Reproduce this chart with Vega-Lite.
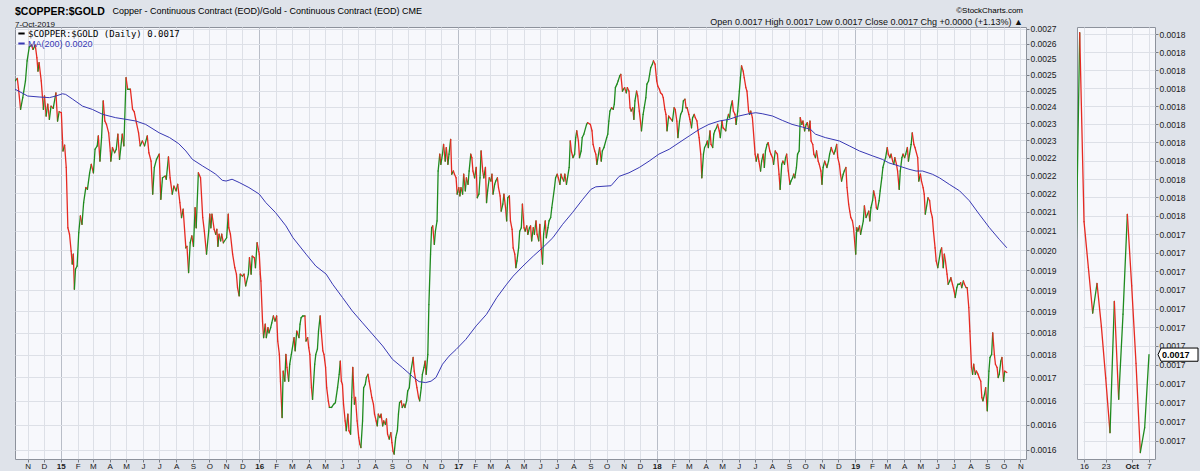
{
"$schema": "https://vega.github.io/schema/vega-lite/v6.json",
"background": "#dfe3ea",
"padding": {"left": 14, "top": 6, "right": 0, "bottom": 0},
"title": {"text": "Copper - Continuous Contract (EOD)/Gold - Continuous Contract (EOD) CME", "anchor": "start", "fontSize": 9, "fontWeight": "normal", "dx": 98, "dy": 9.5, "offset": 0},
"datasets": {
"price": [
{"date":"2014-10-09","value":0.002530},{"date":"2014-10-13","value":0.002538},{"date":"2014-10-15","value":0.002509},{"date":"2014-10-19","value":0.002442},{"date":"2014-10-23","value":0.002478},{"date":"2014-10-28","value":0.002530},{"date":"2014-10-31","value":0.002594},{"date":"2014-11-04","value":0.002639},{"date":"2014-11-08","value":0.002645},{"date":"2014-11-11","value":0.002631},{"date":"2014-11-15","value":0.002645},{"date":"2014-11-18","value":0.002604},{"date":"2014-11-20","value":0.002561},{"date":"2014-11-22","value":0.002588},{"date":"2014-11-26","value":0.002530},{"date":"2014-11-30","value":0.002442},{"date":"2014-12-02","value":0.002483},{"date":"2014-12-05","value":0.002422},{"date":"2014-12-08","value":0.002458},{"date":"2014-12-11","value":0.002412},{"date":"2014-12-14","value":0.002452},{"date":"2014-12-18","value":0.002445},{"date":"2014-12-23","value":0.002493},{"date":"2014-12-26","value":0.002407},{"date":"2014-12-29","value":0.002435},
{"date":"2015-01-02","value":0.002432},{"date":"2015-01-05","value":0.002319},{"date":"2015-01-08","value":0.002336},{"date":"2015-01-11","value":0.002272},{"date":"2015-01-14","value":0.002108},{"date":"2015-01-17","value":0.002091},{"date":"2015-01-20","value":0.002048},{"date":"2015-01-22","value":0.002015},{"date":"2015-01-24","value":0.002040},{"date":"2015-01-26","value":0.001953},{"date":"2015-01-28","value":0.002002},{"date":"2015-01-31","value":0.002010},{"date":"2015-02-03","value":0.002095},{"date":"2015-02-06","value":0.002139},{"date":"2015-02-09","value":0.002117},{"date":"2015-02-12","value":0.002175},{"date":"2015-02-16","value":0.002216},{"date":"2015-02-19","value":0.002211},{"date":"2015-02-23","value":0.002257},{"date":"2015-02-26","value":0.002281},{"date":"2015-03-02","value":0.002257},{"date":"2015-03-05","value":0.002324},{"date":"2015-03-09","value":0.002334},{"date":"2015-03-11","value":0.002363},{"date":"2015-03-14","value":0.002290},{"date":"2015-03-17","value":0.002358},{"date":"2015-03-20","value":0.002468},{"date":"2015-03-23","value":0.002407},{"date":"2015-03-26","value":0.002397},{"date":"2015-03-30","value":0.002372},{"date":"2015-04-02","value":0.002319},{"date":"2015-04-03","value":0.002290},{"date":"2015-04-06","value":0.002329},{"date":"2015-04-10","value":0.002314},{"date":"2015-04-13","value":0.002324},{"date":"2015-04-16","value":0.002368},{"date":"2015-04-19","value":0.002295},{"date":"2015-04-24","value":0.002368},{"date":"2015-04-27","value":0.002334},{"date":"2015-05-01","value":0.002540},{"date":"2015-05-04","value":0.002504},{"date":"2015-05-09","value":0.002504},{"date":"2015-05-13","value":0.002442},{"date":"2015-05-16","value":0.002435},{"date":"2015-05-20","value":0.002402},{"date":"2015-05-24","value":0.002372},{"date":"2015-05-27","value":0.002334},{"date":"2015-05-31","value":0.002348},{"date":"2015-06-04","value":0.002334},{"date":"2015-06-09","value":0.002363},{"date":"2015-06-12","value":0.002314},{"date":"2015-06-16","value":0.002290},{"date":"2015-06-19","value":0.002198},{"date":"2015-06-22","value":0.002272},{"date":"2015-06-26","value":0.002295},{"date":"2015-07-01","value":0.002310},{"date":"2015-07-04","value":0.002184},{"date":"2015-07-07","value":0.002243},{"date":"2015-07-12","value":0.002248},{"date":"2015-07-14","value":0.002239},{"date":"2015-07-18","value":0.002302},{"date":"2015-07-21","value":0.002243},{"date":"2015-07-25","value":0.002198},{"date":"2015-07-28","value":0.002220},{"date":"2015-08-01","value":0.002207},{"date":"2015-08-04","value":0.002225},{"date":"2015-08-08","value":0.002175},{"date":"2015-08-11","value":0.002135},{"date":"2015-08-14","value":0.002157},{"date":"2015-08-19","value":0.002056},{"date":"2015-08-21","value":0.002060},{"date":"2015-08-24","value":0.001994},{"date":"2015-08-27","value":0.002069},{"date":"2015-08-30","value":0.002087},{"date":"2015-09-02","value":0.002060},{"date":"2015-09-05","value":0.002161},{"date":"2015-09-07","value":0.002108},{"date":"2015-09-11","value":0.002257},{"date":"2015-09-15","value":0.002243},{"date":"2015-09-19","value":0.002135},{"date":"2015-09-22","value":0.002099},{"date":"2015-09-26","value":0.002040},{"date":"2015-09-30","value":0.002099},{"date":"2015-10-02","value":0.002144},{"date":"2015-10-04","value":0.002108},{"date":"2015-10-06","value":0.002144},{"date":"2015-10-10","value":0.002104},{"date":"2015-10-13","value":0.002091},{"date":"2015-10-15","value":0.002104},{"date":"2015-10-17","value":0.002060},{"date":"2015-10-19","value":0.002091},{"date":"2015-10-22","value":0.002074},{"date":"2015-10-24","value":0.002091},{"date":"2015-10-27","value":0.002069},{"date":"2015-11-02","value":0.002082},{"date":"2015-11-05","value":0.002144},{"date":"2015-11-06","value":0.002108},{"date":"2015-11-09","value":0.002091},{"date":"2015-11-13","value":0.002040},{"date":"2015-11-17","value":0.002006},{"date":"2015-11-20","value":0.001990},{"date":"2015-11-22","value":0.001957},{"date":"2015-11-25","value":0.001937},{"date":"2015-11-27","value":0.001990},{"date":"2015-12-01","value":0.001985},{"date":"2015-12-04","value":0.001990},{"date":"2015-12-07","value":0.001961},{"date":"2015-12-12","value":0.001990},{"date":"2015-12-14","value":0.002031},{"date":"2015-12-17","value":0.001990},{"date":"2015-12-19","value":0.002035},{"date":"2015-12-23","value":0.002031},{"date":"2015-12-25","value":0.002006},{"date":"2015-12-28","value":0.002069},
{"date":"2016-01-01","value":0.002040},{"date":"2016-01-03","value":0.001990},{"date":"2016-01-04","value":0.001973},{"date":"2016-01-07","value":0.001877},{"date":"2016-01-09","value":0.001839},{"date":"2016-01-12","value":0.001870},{"date":"2016-01-14","value":0.001839},{"date":"2016-01-17","value":0.001862},{"date":"2016-01-19","value":0.001850},{"date":"2016-01-22","value":0.001862},{"date":"2016-01-24","value":0.001873},{"date":"2016-01-27","value":0.001889},{"date":"2016-01-30","value":0.001877},{"date":"2016-02-02","value":0.001889},{"date":"2016-02-04","value":0.001831},{"date":"2016-02-07","value":0.001801},{"date":"2016-02-09","value":0.001742},{"date":"2016-02-12","value":0.001665},{"date":"2016-02-14","value":0.001764},{"date":"2016-02-17","value":0.001742},{"date":"2016-02-19","value":0.001801},{"date":"2016-02-21","value":0.001772},{"date":"2016-02-24","value":0.001742},{"date":"2016-02-26","value":0.001779},{"date":"2016-02-29","value":0.001801},{"date":"2016-03-05","value":0.001839},{"date":"2016-03-07","value":0.001809},{"date":"2016-03-10","value":0.001854},{"date":"2016-03-14","value":0.001839},{"date":"2016-03-16","value":0.001870},{"date":"2016-03-18","value":0.001885},{"date":"2016-03-21","value":0.001889},{"date":"2016-03-25","value":0.001889},{"date":"2016-03-27","value":0.001831},{"date":"2016-03-30","value":0.001839},{"date":"2016-04-01","value":0.001816},{"date":"2016-04-03","value":0.001801},{"date":"2016-04-06","value":0.001728},{"date":"2016-04-08","value":0.001703},{"date":"2016-04-12","value":0.001779},{"date":"2016-04-14","value":0.001801},{"date":"2016-04-17","value":0.001813},{"date":"2016-04-19","value":0.001854},{"date":"2016-04-22","value":0.001889},{"date":"2016-04-24","value":0.001854},{"date":"2016-04-27","value":0.001809},{"date":"2016-04-29","value":0.001801},{"date":"2016-05-02","value":0.001772},{"date":"2016-05-04","value":0.001728},{"date":"2016-05-07","value":0.001700},{"date":"2016-05-09","value":0.001686},{"date":"2016-05-13","value":0.001686},{"date":"2016-05-17","value":0.001693},{"date":"2016-05-20","value":0.001696},{"date":"2016-05-24","value":0.001728},{"date":"2016-05-27","value":0.001757},{"date":"2016-05-29","value":0.001786},{"date":"2016-05-31","value":0.001742},{"date":"2016-06-02","value":0.001735},{"date":"2016-06-04","value":0.001693},{"date":"2016-06-07","value":0.001658},{"date":"2016-06-09","value":0.001638},{"date":"2016-06-12","value":0.001672},{"date":"2016-06-14","value":0.001638},{"date":"2016-06-17","value":0.001631},{"date":"2016-06-19","value":0.001707},{"date":"2016-06-21","value":0.001772},{"date":"2016-06-24","value":0.001693},{"date":"2016-06-26","value":0.001707},{"date":"2016-06-29","value":0.001658},{"date":"2016-07-02","value":0.001624},{"date":"2016-07-04","value":0.001611},{"date":"2016-07-06","value":0.001604},{"date":"2016-07-09","value":0.001658},{"date":"2016-07-11","value":0.001728},{"date":"2016-07-14","value":0.001735},{"date":"2016-07-16","value":0.001750},{"date":"2016-07-19","value":0.001757},{"date":"2016-07-21","value":0.001742},{"date":"2016-07-24","value":0.001721},{"date":"2016-07-26","value":0.001707},{"date":"2016-07-29","value":0.001693},{"date":"2016-07-31","value":0.001672},{"date":"2016-08-03","value":0.001658},{"date":"2016-08-05","value":0.001648},{"date":"2016-08-07","value":0.001672},{"date":"2016-08-10","value":0.001665},{"date":"2016-08-12","value":0.001672},{"date":"2016-08-15","value":0.001648},{"date":"2016-08-17","value":0.001658},{"date":"2016-08-20","value":0.001651},{"date":"2016-08-22","value":0.001662},{"date":"2016-08-24","value":0.001631},{"date":"2016-08-27","value":0.001621},{"date":"2016-08-30","value":0.001634},{"date":"2016-09-01","value":0.001614},{"date":"2016-09-03","value":0.001597},{"date":"2016-09-05","value":0.001591},{"date":"2016-09-08","value":0.001624},{"date":"2016-09-11","value":0.001638},{"date":"2016-09-13","value":0.001672},{"date":"2016-09-15","value":0.001696},{"date":"2016-09-18","value":0.001700},{"date":"2016-09-20","value":0.001686},{"date":"2016-09-23","value":0.001693},{"date":"2016-09-25","value":0.001686},{"date":"2016-09-28","value":0.001700},{"date":"2016-09-30","value":0.001721},{"date":"2016-10-03","value":0.001728},{"date":"2016-10-05","value":0.001757},{"date":"2016-10-10","value":0.001794},{"date":"2016-10-12","value":0.001764},{"date":"2016-10-15","value":0.001742},{"date":"2016-10-17","value":0.001728},{"date":"2016-10-20","value":0.001707},{"date":"2016-10-22","value":0.001700},{"date":"2016-10-25","value":0.001728},{"date":"2016-10-27","value":0.001757},{"date":"2016-10-30","value":0.001772},{"date":"2016-11-01","value":0.001786},{"date":"2016-11-03","value":0.001757},{"date":"2016-11-06","value":0.001801},{"date":"2016-11-08","value":0.001916},{"date":"2016-11-11","value":0.002040},{"date":"2016-11-13","value":0.002108},{"date":"2016-11-15","value":0.002113},{"date":"2016-11-18","value":0.002065},{"date":"2016-11-20","value":0.002099},{"date":"2016-11-23","value":0.002126},{"date":"2016-11-25","value":0.002262},{"date":"2016-11-28","value":0.002310},{"date":"2016-11-30","value":0.002281},{"date":"2016-12-03","value":0.002310},{"date":"2016-12-05","value":0.002338},{"date":"2016-12-08","value":0.002290},{"date":"2016-12-10","value":0.002329},{"date":"2016-12-13","value":0.002281},{"date":"2016-12-15","value":0.002310},{"date":"2016-12-18","value":0.002353},{"date":"2016-12-20","value":0.002253},{"date":"2016-12-23","value":0.002262},{"date":"2016-12-25","value":0.002253},{"date":"2016-12-28","value":0.002243},{"date":"2016-12-30","value":0.002198},
{"date":"2017-01-02","value":0.002216},{"date":"2017-01-04","value":0.002193},{"date":"2017-01-06","value":0.002216},{"date":"2017-01-09","value":0.002198},{"date":"2017-01-11","value":0.002253},{"date":"2017-01-14","value":0.002207},{"date":"2017-01-16","value":0.002243},{"date":"2017-01-19","value":0.002225},{"date":"2017-01-21","value":0.002262},{"date":"2017-01-24","value":0.002310},{"date":"2017-01-26","value":0.002300},{"date":"2017-01-28","value":0.002262},{"date":"2017-01-31","value":0.002243},{"date":"2017-02-03","value":0.002272},{"date":"2017-02-05","value":0.002188},{"date":"2017-02-08","value":0.002198},{"date":"2017-02-10","value":0.002243},{"date":"2017-02-12","value":0.002319},{"date":"2017-02-15","value":0.002262},{"date":"2017-02-17","value":0.002243},{"date":"2017-02-20","value":0.002272},{"date":"2017-02-22","value":0.002175},{"date":"2017-02-24","value":0.002207},{"date":"2017-02-27","value":0.002243},{"date":"2017-03-02","value":0.002234},{"date":"2017-03-04","value":0.002253},{"date":"2017-03-06","value":0.002198},{"date":"2017-03-09","value":0.002225},{"date":"2017-03-11","value":0.002234},{"date":"2017-03-14","value":0.002243},{"date":"2017-03-16","value":0.002216},{"date":"2017-03-19","value":0.002193},{"date":"2017-03-21","value":0.002152},{"date":"2017-03-24","value":0.002171},{"date":"2017-03-26","value":0.002198},{"date":"2017-03-29","value":0.002161},{"date":"2017-03-31","value":0.002126},{"date":"2017-04-02","value":0.002188},{"date":"2017-04-05","value":0.002193},{"date":"2017-04-07","value":0.002126},{"date":"2017-04-10","value":0.002104},{"date":"2017-04-12","value":0.002056},{"date":"2017-04-15","value":0.002040},{"date":"2017-04-17","value":0.002006},{"date":"2017-04-19","value":0.002023},{"date":"2017-04-22","value":0.002056},{"date":"2017-04-24","value":0.002099},{"date":"2017-04-27","value":0.002108},{"date":"2017-04-29","value":0.002171},{"date":"2017-05-02","value":0.002108},{"date":"2017-05-04","value":0.002099},{"date":"2017-05-07","value":0.002113},{"date":"2017-05-09","value":0.002091},{"date":"2017-05-12","value":0.002108},{"date":"2017-05-14","value":0.002113},{"date":"2017-05-16","value":0.002074},{"date":"2017-05-19","value":0.002108},{"date":"2017-05-21","value":0.002091},{"date":"2017-05-24","value":0.002126},{"date":"2017-05-26","value":0.002091},{"date":"2017-05-29","value":0.002074},{"date":"2017-05-31","value":0.002117},{"date":"2017-06-03","value":0.002048},{"date":"2017-06-05","value":0.002015},{"date":"2017-06-07","value":0.002091},{"date":"2017-06-10","value":0.002126},{"date":"2017-06-12","value":0.002082},{"date":"2017-06-15","value":0.002108},{"date":"2017-06-17","value":0.002126},{"date":"2017-06-20","value":0.002135},{"date":"2017-06-22","value":0.002161},{"date":"2017-06-27","value":0.002216},{"date":"2017-06-29","value":0.002243},{"date":"2017-07-02","value":0.002253},{"date":"2017-07-04","value":0.002243},{"date":"2017-07-07","value":0.002225},{"date":"2017-07-09","value":0.002253},{"date":"2017-07-11","value":0.002243},{"date":"2017-07-14","value":0.002234},{"date":"2017-07-16","value":0.002253},{"date":"2017-07-19","value":0.002225},{"date":"2017-07-24","value":0.002272},{"date":"2017-07-26","value":0.002348},{"date":"2017-07-28","value":0.002319},{"date":"2017-07-31","value":0.002300},{"date":"2017-08-03","value":0.002310},{"date":"2017-08-05","value":0.002358},{"date":"2017-08-07","value":0.002378},{"date":"2017-08-10","value":0.002348},{"date":"2017-08-12","value":0.002300},{"date":"2017-08-15","value":0.002319},{"date":"2017-08-17","value":0.002358},{"date":"2017-08-20","value":0.002368},{"date":"2017-08-25","value":0.002397},{"date":"2017-08-27","value":0.002402},{"date":"2017-09-01","value":0.002397},{"date":"2017-09-04","value":0.002378},{"date":"2017-09-06","value":0.002338},{"date":"2017-09-09","value":0.002319},{"date":"2017-09-11","value":0.002310},{"date":"2017-09-13","value":0.002281},{"date":"2017-09-16","value":0.002310},{"date":"2017-09-18","value":0.002329},{"date":"2017-09-21","value":0.002290},{"date":"2017-09-23","value":0.002319},{"date":"2017-09-26","value":0.002329},{"date":"2017-10-01","value":0.002358},{"date":"2017-10-03","value":0.002368},{"date":"2017-10-05","value":0.002407},{"date":"2017-10-07","value":0.002437},{"date":"2017-10-10","value":0.002447},{"date":"2017-10-13","value":0.002442},{"date":"2017-10-15","value":0.002458},{"date":"2017-10-17","value":0.002509},{"date":"2017-10-20","value":0.002520},{"date":"2017-10-22","value":0.002530},{"date":"2017-10-25","value":0.002546},{"date":"2017-10-27","value":0.002551},{"date":"2017-10-30","value":0.002498},{"date":"2017-11-01","value":0.002504},{"date":"2017-11-03","value":0.002509},{"date":"2017-11-06","value":0.002493},{"date":"2017-11-08","value":0.002509},{"date":"2017-11-11","value":0.002498},{"date":"2017-11-13","value":0.002447},{"date":"2017-11-15","value":0.002437},{"date":"2017-11-18","value":0.002447},{"date":"2017-11-20","value":0.002412},{"date":"2017-11-22","value":0.002468},{"date":"2017-11-25","value":0.002498},{"date":"2017-11-27","value":0.002483},{"date":"2017-11-30","value":0.002437},{"date":"2017-12-04","value":0.002378},{"date":"2017-12-07","value":0.002427},{"date":"2017-12-09","value":0.002447},{"date":"2017-12-12","value":0.002478},{"date":"2017-12-14","value":0.002520},{"date":"2017-12-17","value":0.002530},{"date":"2017-12-19","value":0.002551},{"date":"2017-12-21","value":0.002572},{"date":"2017-12-24","value":0.002583},{"date":"2017-12-26","value":0.002594},{"date":"2017-12-29","value":0.002583},
{"date":"2018-01-01","value":0.002530},{"date":"2018-01-03","value":0.002514},{"date":"2018-01-06","value":0.002504},{"date":"2018-01-08","value":0.002493},{"date":"2018-01-11","value":0.002488},{"date":"2018-01-13","value":0.002478},{"date":"2018-01-16","value":0.002442},{"date":"2018-01-18","value":0.002427},{"date":"2018-01-20","value":0.002378},{"date":"2018-01-23","value":0.002422},{"date":"2018-01-25","value":0.002417},{"date":"2018-01-30","value":0.002407},{"date":"2018-02-02","value":0.002447},{"date":"2018-02-04","value":0.002442},{"date":"2018-02-07","value":0.002407},{"date":"2018-02-09","value":0.002358},{"date":"2018-02-12","value":0.002407},{"date":"2018-02-14","value":0.002427},{"date":"2018-02-17","value":0.002437},{"date":"2018-02-19","value":0.002468},{"date":"2018-02-22","value":0.002473},{"date":"2018-02-24","value":0.002447},{"date":"2018-02-26","value":0.002447},{"date":"2018-03-01","value":0.002427},{"date":"2018-03-03","value":0.002412},{"date":"2018-03-06","value":0.002387},{"date":"2018-03-08","value":0.002417},{"date":"2018-03-11","value":0.002427},{"date":"2018-03-13","value":0.002417},{"date":"2018-03-16","value":0.002407},{"date":"2018-03-18","value":0.002378},{"date":"2018-03-20","value":0.002358},{"date":"2018-03-23","value":0.002310},{"date":"2018-03-25","value":0.002243},{"date":"2018-03-28","value":0.002310},{"date":"2018-03-30","value":0.002329},{"date":"2018-04-02","value":0.002338},{"date":"2018-04-04","value":0.002348},{"date":"2018-04-06","value":0.002329},{"date":"2018-04-09","value":0.002378},{"date":"2018-04-11","value":0.002338},{"date":"2018-04-14","value":0.002329},{"date":"2018-04-16","value":0.002368},{"date":"2018-04-18","value":0.002378},{"date":"2018-04-21","value":0.002387},{"date":"2018-04-23","value":0.002397},{"date":"2018-04-26","value":0.002378},{"date":"2018-04-28","value":0.002358},{"date":"2018-05-01","value":0.002407},{"date":"2018-05-03","value":0.002387},{"date":"2018-05-08","value":0.002378},{"date":"2018-05-10","value":0.002407},{"date":"2018-05-13","value":0.002427},{"date":"2018-05-15","value":0.002417},{"date":"2018-05-17","value":0.002447},{"date":"2018-05-20","value":0.002468},{"date":"2018-05-22","value":0.002437},{"date":"2018-05-25","value":0.002427},{"date":"2018-05-27","value":0.002397},{"date":"2018-05-30","value":0.002437},{"date":"2018-06-02","value":0.002498},{"date":"2018-06-04","value":0.002540},{"date":"2018-06-06","value":0.002578},{"date":"2018-06-09","value":0.002561},{"date":"2018-06-11","value":0.002540},{"date":"2018-06-14","value":0.002509},{"date":"2018-06-16","value":0.002498},{"date":"2018-06-19","value":0.002437},{"date":"2018-06-21","value":0.002427},{"date":"2018-06-23","value":0.002437},{"date":"2018-06-26","value":0.002417},{"date":"2018-07-01","value":0.002310},{"date":"2018-07-03","value":0.002290},{"date":"2018-07-06","value":0.002310},{"date":"2018-07-08","value":0.002290},{"date":"2018-07-11","value":0.002262},{"date":"2018-07-13","value":0.002290},{"date":"2018-07-16","value":0.002310},{"date":"2018-07-18","value":0.002272},{"date":"2018-07-20","value":0.002319},{"date":"2018-07-23","value":0.002338},{"date":"2018-07-25","value":0.002343},{"date":"2018-07-28","value":0.002319},{"date":"2018-07-30","value":0.002310},{"date":"2018-08-02","value":0.002300},{"date":"2018-08-04","value":0.002281},{"date":"2018-08-07","value":0.002319},{"date":"2018-08-09","value":0.002314},{"date":"2018-08-11","value":0.002310},{"date":"2018-08-14","value":0.002253},{"date":"2018-08-16","value":0.002211},{"date":"2018-08-19","value":0.002281},{"date":"2018-08-21","value":0.002290},{"date":"2018-08-24","value":0.002281},{"date":"2018-08-26","value":0.002300},{"date":"2018-08-28","value":0.002310},{"date":"2018-08-31","value":0.002262},{"date":"2018-09-03","value":0.002225},{"date":"2018-09-05","value":0.002234},{"date":"2018-09-08","value":0.002243},{"date":"2018-09-10","value":0.002253},{"date":"2018-09-12","value":0.002243},{"date":"2018-09-15","value":0.002272},{"date":"2018-09-17","value":0.002310},{"date":"2018-09-20","value":0.002319},{"date":"2018-09-22","value":0.002417},{"date":"2018-09-25","value":0.002397},{"date":"2018-09-27","value":0.002407},{"date":"2018-09-30","value":0.002378},{"date":"2018-10-03","value":0.002397},{"date":"2018-10-05","value":0.002402},{"date":"2018-10-08","value":0.002378},{"date":"2018-10-10","value":0.002407},{"date":"2018-10-12","value":0.002348},{"date":"2018-10-15","value":0.002338},{"date":"2018-10-17","value":0.002310},{"date":"2018-10-20","value":0.002300},{"date":"2018-10-22","value":0.002319},{"date":"2018-10-25","value":0.002290},{"date":"2018-10-27","value":0.002281},{"date":"2018-10-30","value":0.002262},{"date":"2018-11-01","value":0.002225},{"date":"2018-11-03","value":0.002272},{"date":"2018-11-06","value":0.002290},{"date":"2018-11-08","value":0.002281},{"date":"2018-11-10","value":0.002272},{"date":"2018-11-13","value":0.002290},{"date":"2018-11-15","value":0.002310},{"date":"2018-11-18","value":0.002329},{"date":"2018-11-20","value":0.002319},{"date":"2018-11-23","value":0.002310},{"date":"2018-11-25","value":0.002319},{"date":"2018-11-28","value":0.002338},{"date":"2018-11-30","value":0.002300},{"date":"2018-12-03","value":0.002281},{"date":"2018-12-05","value":0.002253},{"date":"2018-12-07","value":0.002234},{"date":"2018-12-10","value":0.002253},{"date":"2018-12-12","value":0.002262},{"date":"2018-12-15","value":0.002272},{"date":"2018-12-17","value":0.002216},{"date":"2018-12-20","value":0.002171},{"date":"2018-12-22","value":0.002152},{"date":"2018-12-24","value":0.002135},{"date":"2018-12-27","value":0.002126},{"date":"2018-12-29","value":0.002108},
{"date":"2019-01-02","value":0.002040},{"date":"2019-01-04","value":0.002108},{"date":"2019-01-06","value":0.002099},{"date":"2019-01-09","value":0.002113},{"date":"2019-01-11","value":0.002091},{"date":"2019-01-16","value":0.002126},{"date":"2019-01-18","value":0.002166},{"date":"2019-01-21","value":0.002135},{"date":"2019-01-26","value":0.002152},{"date":"2019-01-28","value":0.002126},{"date":"2019-01-30","value":0.002161},{"date":"2019-02-02","value":0.002180},{"date":"2019-02-04","value":0.002207},{"date":"2019-02-07","value":0.002188},{"date":"2019-02-09","value":0.002161},{"date":"2019-02-11","value":0.002157},{"date":"2019-02-14","value":0.002180},{"date":"2019-02-16","value":0.002207},{"date":"2019-02-19","value":0.002243},{"date":"2019-02-21","value":0.002272},{"date":"2019-02-24","value":0.002290},{"date":"2019-02-26","value":0.002300},{"date":"2019-03-01","value":0.002329},{"date":"2019-03-03","value":0.002310},{"date":"2019-03-06","value":0.002300},{"date":"2019-03-08","value":0.002310},{"date":"2019-03-11","value":0.002290},{"date":"2019-03-13","value":0.002281},{"date":"2019-03-15","value":0.002300},{"date":"2019-03-18","value":0.002281},{"date":"2019-03-20","value":0.002262},{"date":"2019-03-23","value":0.002211},{"date":"2019-03-25","value":0.002262},{"date":"2019-03-28","value":0.002300},{"date":"2019-03-30","value":0.002310},{"date":"2019-04-02","value":0.002300},{"date":"2019-04-04","value":0.002310},{"date":"2019-04-07","value":0.002329},{"date":"2019-04-09","value":0.002290},{"date":"2019-04-11","value":0.002310},{"date":"2019-04-14","value":0.002338},{"date":"2019-04-16","value":0.002372},{"date":"2019-04-19","value":0.002338},{"date":"2019-04-21","value":0.002329},{"date":"2019-04-26","value":0.002300},{"date":"2019-04-28","value":0.002234},{"date":"2019-05-01","value":0.002253},{"date":"2019-05-03","value":0.002234},{"date":"2019-05-06","value":0.002216},{"date":"2019-05-08","value":0.002198},{"date":"2019-05-10","value":0.002144},{"date":"2019-05-15","value":0.002188},{"date":"2019-05-18","value":0.002180},{"date":"2019-05-20","value":0.002152},{"date":"2019-05-23","value":0.002135},{"date":"2019-05-25","value":0.002099},{"date":"2019-05-28","value":0.002056},{"date":"2019-05-30","value":0.002023},{"date":"2019-06-02","value":0.002006},{"date":"2019-06-07","value":0.002048},{"date":"2019-06-09","value":0.002056},{"date":"2019-06-12","value":0.002006},{"date":"2019-06-14","value":0.002040},{"date":"2019-06-16","value":0.002023},{"date":"2019-06-19","value":0.001990},{"date":"2019-06-21","value":0.001965},{"date":"2019-06-24","value":0.001973},{"date":"2019-06-26","value":0.001981},{"date":"2019-06-29","value":0.001965},{"date":"2019-07-02","value":0.001949},{"date":"2019-07-04","value":0.001933},{"date":"2019-07-07","value":0.001957},{"date":"2019-07-09","value":0.001965},{"date":"2019-07-12","value":0.001965},{"date":"2019-07-14","value":0.001969},{"date":"2019-07-16","value":0.001957},{"date":"2019-07-19","value":0.001973},{"date":"2019-07-21","value":0.001965},{"date":"2019-07-24","value":0.001957},{"date":"2019-07-26","value":0.001957},{"date":"2019-07-29","value":0.001909},{"date":"2019-07-31","value":0.001854},{"date":"2019-08-03","value":0.001772},{"date":"2019-08-05","value":0.001757},{"date":"2019-08-07","value":0.001779},{"date":"2019-08-10","value":0.001757},{"date":"2019-08-12","value":0.001764},{"date":"2019-08-15","value":0.001757},{"date":"2019-08-17","value":0.001750},{"date":"2019-08-20","value":0.001742},{"date":"2019-08-22","value":0.001707},{"date":"2019-08-24","value":0.001700},{"date":"2019-08-27","value":0.001714},{"date":"2019-08-29","value":0.001728},{"date":"2019-09-01","value":0.001679},{"date":"2019-09-04","value":0.001764},{"date":"2019-09-06","value":0.001794},{"date":"2019-09-09","value":0.001801},{"date":"2019-09-11","value":0.001850},{"date":"2019-09-14","value":0.001801},{"date":"2019-09-16","value":0.001779},{"date":"2019-09-19","value":0.001772},{"date":"2019-09-21","value":0.001750},{"date":"2019-09-23","value":0.001757},{"date":"2019-09-26","value":0.001786},{"date":"2019-09-28","value":0.001794},{"date":"2019-10-01","value":0.001742},{"date":"2019-10-03","value":0.001764},{"date":"2019-10-07","value":0.001761}
],
"ma": [
{"date":"2014-10-09","value":0.002504},{"date":"2014-11-01","value":0.002483},{"date":"2014-11-22","value":0.002480},{"date":"2014-12-11","value":0.002478},{"date":"2014-12-23","value":0.002483},{"date":"2015-01-04","value":0.002490},{"date":"2015-01-10","value":0.002488},{"date":"2015-01-23","value":0.002473},{"date":"2015-02-10","value":0.002452},{"date":"2015-02-28","value":0.002442},{"date":"2015-03-19","value":0.002427},{"date":"2015-04-12","value":0.002417},{"date":"2015-05-01","value":0.002412},{"date":"2015-05-19","value":0.002407},{"date":"2015-06-06","value":0.002397},{"date":"2015-07-01","value":0.002372},{"date":"2015-07-20","value":0.002358},{"date":"2015-08-06","value":0.002340},{"date":"2015-08-19","value":0.002319},{"date":"2015-08-31","value":0.002295},{"date":"2015-09-19","value":0.002276},{"date":"2015-10-04","value":0.002262},{"date":"2015-10-13","value":0.002253},{"date":"2015-10-25","value":0.002236},{"date":"2015-11-01","value":0.002234},{"date":"2015-11-12","value":0.002239},{"date":"2015-11-25","value":0.002230},{"date":"2015-12-13","value":0.002216},{"date":"2016-01-01","value":0.002198},{"date":"2016-01-13","value":0.002175},{"date":"2016-01-31","value":0.002148},{"date":"2016-02-19","value":0.002113},{"date":"2016-03-03","value":0.002082},{"date":"2016-03-27","value":0.002040},{"date":"2016-04-14","value":0.002010},{"date":"2016-05-03","value":0.001990},{"date":"2016-05-15","value":0.001965},{"date":"2016-06-02","value":0.001933},{"date":"2016-06-20","value":0.001901},{"date":"2016-07-09","value":0.001873},{"date":"2016-07-27","value":0.001847},{"date":"2016-08-15","value":0.001820},{"date":"2016-09-02","value":0.001790},{"date":"2016-09-20","value":0.001772},{"date":"2016-10-09","value":0.001752},{"date":"2016-10-21","value":0.001741},{"date":"2016-11-02","value":0.001739},{"date":"2016-11-12","value":0.001742},{"date":"2016-11-21","value":0.001750},{"date":"2016-12-03","value":0.001779},{"date":"2016-12-15","value":0.001797},{"date":"2016-12-28","value":0.001812},{"date":"2017-01-15","value":0.001835},{"date":"2017-02-03","value":0.001866},{"date":"2017-02-22","value":0.001893},{"date":"2017-03-13","value":0.001933},{"date":"2017-03-31","value":0.001965},{"date":"2017-04-12","value":0.001985},{"date":"2017-04-30","value":0.002010},{"date":"2017-05-19","value":0.002035},{"date":"2017-06-05","value":0.002056},{"date":"2017-06-24","value":0.002082},{"date":"2017-07-12","value":0.002117},{"date":"2017-07-30","value":0.002148},{"date":"2017-08-18","value":0.002184},{"date":"2017-09-02","value":0.002211},{"date":"2017-09-11","value":0.002218},{"date":"2017-10-09","value":0.002221},{"date":"2017-10-24","value":0.002247},{"date":"2017-11-11","value":0.002257},{"date":"2017-11-30","value":0.002272},{"date":"2017-12-18","value":0.002290},{"date":"2018-01-05","value":0.002310},{"date":"2018-01-24","value":0.002324},{"date":"2018-02-11","value":0.002343},{"date":"2018-03-02","value":0.002363},{"date":"2018-03-20","value":0.002382},{"date":"2018-04-07","value":0.002397},{"date":"2018-04-26","value":0.002407},{"date":"2018-05-14","value":0.002412},{"date":"2018-06-01","value":0.002422},{"date":"2018-06-20","value":0.002429},{"date":"2018-07-02","value":0.002432},{"date":"2018-07-14","value":0.002429},{"date":"2018-08-02","value":0.002422},{"date":"2018-08-20","value":0.002409},{"date":"2018-09-07","value":0.002397},{"date":"2018-09-26","value":0.002389},{"date":"2018-10-11","value":0.002382},{"date":"2018-10-20","value":0.002368},{"date":"2018-11-07","value":0.002358},{"date":"2018-12-03","value":0.002348},{"date":"2018-12-21","value":0.002334},{"date":"2019-01-09","value":0.002319},{"date":"2019-02-02","value":0.002305},{"date":"2019-02-20","value":0.002295},{"date":"2019-03-04","value":0.002285},{"date":"2019-03-23","value":0.002276},{"date":"2019-04-10","value":0.002267},{"date":"2019-04-23","value":0.002262},{"date":"2019-05-05","value":0.002262},{"date":"2019-05-23","value":0.002253},{"date":"2019-06-05","value":0.002243},{"date":"2019-06-23","value":0.002225},{"date":"2019-07-12","value":0.002207},{"date":"2019-07-30","value":0.002180},{"date":"2019-08-17","value":0.002144},{"date":"2019-09-05","value":0.002108},{"date":"2019-09-23","value":0.002078},{"date":"2019-10-07","value":0.002056}
],
"zoom": [
{"date":"2019-09-12","value":0.0017219},{"date":"2019-09-13","value":0.0017954},{"date":"2019-09-16","value":0.0017434},{"date":"2019-09-17","value":0.0017310},{"date":"2019-09-18","value":0.0017188},{"date":"2019-09-19","value":0.0017267},{"date":"2019-09-20","value":0.0017153},{"date":"2019-09-23","value":0.0017015},{"date":"2019-09-24","value":0.0016871},{"date":"2019-09-25","value":0.0017219},{"date":"2019-09-26","value":0.0016959},{"date":"2019-09-27","value":0.0017185},{"date":"2019-09-30","value":0.0017454},{"date":"2019-10-01","value":0.0017261},{"date":"2019-10-02","value":0.0017054},{"date":"2019-10-03","value":0.0016819},{"date":"2019-10-04","value":0.0016884},{"date":"2019-10-07","value":0.0017077}
]
},
"hconcat": [
{
"width": 1011, "height": 432,
"title": {"text": "$COPPER:$GOLD", "subtitle": "7-Oct-2019", "anchor": "start", "frame": "group", "fontSize": 10.5, "fontWeight": "bold", "subtitleFontSize": 8, "offset": -4, "subtitlePadding": 3},
"layer": [
{
"data": {"name": "price", "format": {"parse": {"date": "date"}}},
"transform": [
{"window": [{"op": "lag", "field": "date", "as": "pdate"}, {"op": "lag", "field": "value", "as": "pvalue"}], "sort": [{"field": "date", "order": "ascending"}]},
{"filter": "datum.pvalue != null"}
],
"mark": {"type": "rule", "strokeWidth": 1.3, "strokeCap": "round", "clip": true},
"encoding": {
"x": {"field": "pdate", "type": "temporal", "title": null,
 "scale": {"type": "utc", "domain": [{"year": 2014, "month": 10, "date": 8, "hours": 18, "utc": true}, {"year": 2019, "month": 11, "date": 11, "hours": 5, "utc": true}], "nice": false},
 "axis": {"tickCount": {"interval": "month", "step": 1}, "labelExpr": "utcmonth(datum.value) === 0 ? utcFormat(datum.value, '%y') : substring(utcFormat(datum.value, '%b'), 0, 1)", "labelFontWeight": {"condition": {"test": "utcmonth(datum.value) === 0", "value": "bold"}, "value": "normal"}, "gridColor": {"condition": {"test": "utcmonth(datum.value) === 0", "value": "#b9bec8"}, "value": "#dde0e7"}, "grid": true, "labelOverlap": false, "labelFlush": false, "labelBound": false, "tickSize": 3, "labelPadding": 0, "labelFontSize": 8, "domain": false}},
"x2": {"field": "date"},
"y": {"field": "pvalue", "type": "quantitative", "title": null,
 "scale": {"type": "log", "domain": [0.0015814, 0.0027054], "nice": false},
 "axis": {"orient": "right", "values": [0.0027, 0.00265, 0.0026, 0.00255, 0.0025, 0.00245, 0.0024, 0.00235, 0.0023, 0.00225, 0.0022, 0.00215, 0.0021, 0.00205, 0.002, 0.00195, 0.0019, 0.00185, 0.0018, 0.00175, 0.0017, 0.00165, 0.0016], "labelExpr": "['0.0027','0.0026','0.0025','0.0025','0.0025','0.0024','0.0023','0.0023','0.0022','0.0022','0.0022','0.0021','0.0021','0.0020','0.0019','0.0019','0.0019','0.0018','0.0018','0.0017','0.0016','0.0016','0.0016'][round((0.0027 - datum.value) / 0.00005)]", "grid": true, "tickSize": 3, "labelPadding": 1, "labelFontSize": 8.5, "labelOverlap": false, "labelBound": false, "labelFlush": false, "domain": false}},
"y2": {"field": "value"},
"color": {"condition": {"test": "datum.value >= datum.pvalue", "value": "#1f8b1f"}, "value": "#e62a22"}
}
},
{
"data": {"name": "ma", "format": {"parse": {"date": "date"}}},
"mark": {"type": "line", "strokeWidth": 1, "clip": true},
"encoding": {
"x": {"field": "date", "type": "temporal", "title": null, "scale": {"type": "utc", "domain": [{"year": 2014, "month": 10, "date": 8, "hours": 18, "utc": true}, {"year": 2019, "month": 11, "date": 11, "hours": 5, "utc": true}], "nice": false}},
"y": {"field": "value", "type": "quantitative", "title": null, "scale": {"type": "log", "domain": [0.0015814, 0.0027054], "nice": false}},
"color": {"datum": "MA(200) 0.0020", "type": "nominal",
 "scale": {"domain": ["$COPPER:$GOLD (Daily) 0.0017", "MA(200) 0.0020"], "range": ["#000000", "#3838b4"]},
 "legend": {"orient": "top-left", "offset": 2, "title": null, "symbolType": "stroke", "symbolStrokeWidth": 2, "symbolSize": 40, "labelFontSize": 9, "rowPadding": 0, "padding": 0, "labelOffset": 2, "labelLimit": 0,
  "encode": {"labels": {"update": {"fill": {"signal": "datum.value === 'MA(200) 0.0020' ? '#3838b4' : '#000000'"}, "font": {"signal": "datum.value === 'MA(200) 0.0020' ? 'Liberation Sans' : 'DejaVu Sans Mono'"}}}}}}
}
}
]
},
{
"width": 78, "height": 432,
"title": {"text": "©StockCharts.com", "subtitle": "Open 0.0017  High 0.0017  Low 0.0017  Close 0.0017  Chg +0.0000 (+1.13%) ▲", "anchor": "end", "frame": "group", "dx": -132, "fontSize": 8, "fontWeight": "normal", "subtitleFontSize": 9, "offset": 0, "subtitlePadding": 3},
"layer": [
{
"data": {"name": "zoom"},
"transform": [
{"window": [{"op": "lag", "field": "date", "as": "pdate"}, {"op": "lag", "field": "value", "as": "pvalue"}], "sort": [{"field": "date", "order": "ascending"}]},
{"filter": "datum.pvalue != null"}
],
"mark": {"type": "rule", "strokeWidth": 1.3, "strokeCap": "round", "clip": true},
"encoding": {
"x": {"field": "pdate", "type": "ordinal", "title": null,
 "scale": {"type": "point", "domain": ["2019-09-12","2019-09-13","2019-09-16","2019-09-17","2019-09-18","2019-09-19","2019-09-20","2019-09-23","2019-09-24","2019-09-25","2019-09-26","2019-09-27","2019-09-30","2019-10-01","2019-10-02","2019-10-03","2019-10-04","2019-10-07"], "range": [-1.63, 72], "padding": 0},
 "axis": {"values": ["2019-09-16","2019-09-23","2019-10-01","2019-10-07"], "labelExpr": "datum.value === '2019-10-01' ? 'Oct' : datum.value === '2019-09-16' ? '16' : datum.value === '2019-09-23' ? '23' : '7'", "labelFontWeight": {"condition": {"test": "datum.value === '2019-10-01'", "value": "bold"}, "value": "normal"}, "grid": true, "tickSize": 3, "labelPadding": 0, "labelFontSize": 8, "labelAngle": 0, "domain": false, "labelOverlap": false}},
"x2": {"field": "date"},
"y": {"field": "pvalue", "type": "quantitative", "title": null,
 "scale": {"type": "log", "domain": [0.0016802, 0.001797], "nice": false},
 "axis": {"orient": "right", "values": [0.001795,0.00179,0.001785,0.00178,0.001775,0.00177,0.001765,0.00176,0.001755,0.00175,0.001745,0.00174,0.001735,0.00173,0.001725,0.00172,0.001715,0.00171,0.001705,0.0017,0.001695,0.00169,0.001685], "labelExpr": "datum.value > 0.0017425 ? '0.0018' : '0.0017'", "grid": true, "tickSize": 3, "labelPadding": 1, "labelFontSize": 8.5, "labelOverlap": false, "labelBound": false, "labelFlush": false, "domain": false}},
"y2": {"field": "value"},
"color": {"condition": {"test": "datum.value >= datum.pvalue", "value": "#1f8b1f"}, "value": "#e62a22"}
}
},
{
"data": {"values": [{}]},
"mark": {"type": "point", "shape": "M -1 0 L -0.85 -0.33 L 1 -0.33 L 1 0.33 L -0.85 0.33 Z", "size": 1600, "filled": true, "fill": "#ffffff", "stroke": "#000000", "strokeWidth": 1, "opacity": 1, "xOffset": 29, "clip": false},
"encoding": {"x": {"datum": "2019-10-07", "type": "ordinal"}, "y": {"datum": 0.0017077, "type": "quantitative"}}
},
{
"data": {"values": [{}]},
"mark": {"type": "text", "text": "0.0017", "fontWeight": "bold", "fontSize": 9, "align": "left", "baseline": "middle", "dx": 13, "clip": false, "color": "#000000"},
"encoding": {"x": {"datum": "2019-10-07", "type": "ordinal"}, "y": {"datum": 0.0017077, "type": "quantitative"}}
}
]
}
],
"spacing": 51,
"bounds": "flush",
"resolve": {"scale": {"x": "independent", "y": "independent", "color": "independent"}},
"config": {
"font": "Liberation Sans",
"view": {"stroke": "#8d929c", "fill": "#f7f8fc", "strokeWidth": 1},
"axis": {"labelColor": "#1a1a1a", "tickColor": "#777c86", "gridColor": "#dde0e7", "labelFont": "Liberation Sans"},
"title": {"color": "#000000", "subtitleColor": "#111111", "font": "Liberation Sans", "subtitleFont": "Liberation Sans"}
}
}
